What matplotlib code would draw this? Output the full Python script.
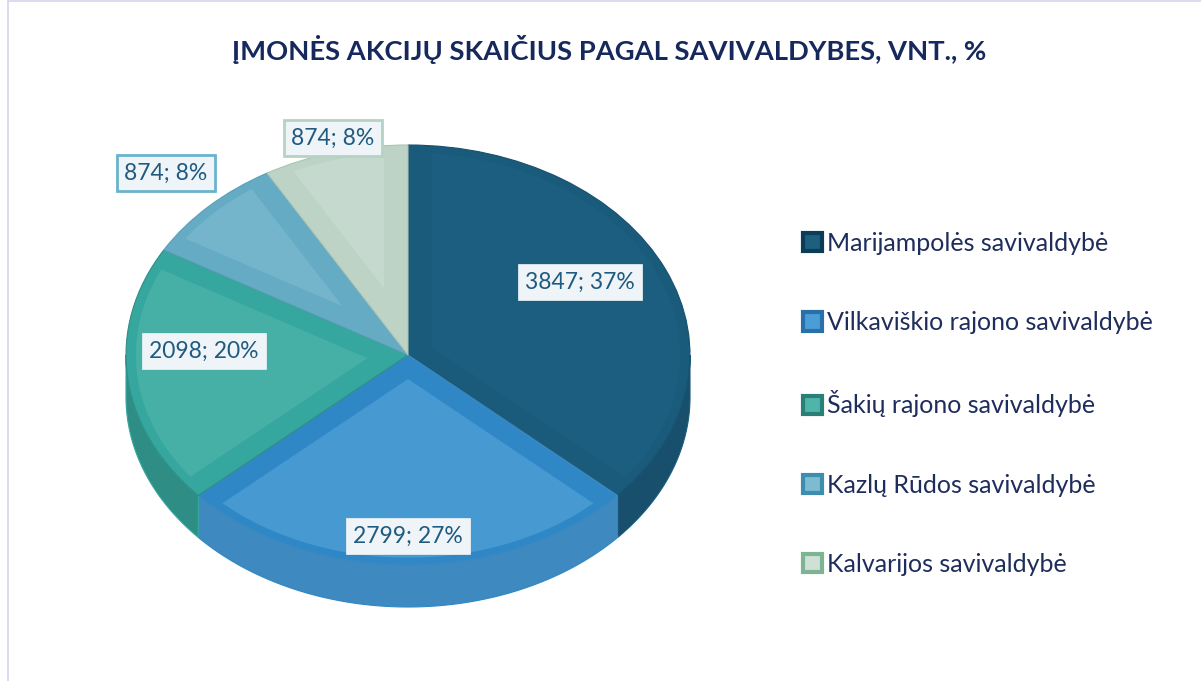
import numpy as np
import matplotlib.pyplot as plt
from matplotlib.patches import Polygon, Rectangle, Patch

# ---- data ----
categories = ['Marijampolės savivaldybė', 'Vilkaviškio rajono savivaldybė',
              'Šakių rajono savivaldybė', 'Kazlų Rūdos savivaldybė',
              'Kalvarijos savivaldybė']
values = [3847, 2799, 2098, 874, 874]
title = 'ĮMONĖS AKCIJŲ SKAIČIUS PAGAL SAVIVALDYBES, VNT., %'

# ---- styles ----
top_colors = ['#1B5E80', '#4699D1', '#46B0A6', '#74B5CC', '#C5D9CE']
band_colors = ['#1A5B7C', '#2F88C5', '#36A79E', '#65ABC4', '#BCD3C6']
side_colors = ['#174F6C', '#3D89C0', '#2E8E85', '#5A9FB8', '#A8C4B5']
legend_face = ['#1E5F7F', '#4A9DD6', '#4FB5AA', '#7DBBD0', '#D0E0D7']
legend_edge = ['#0C3D57', '#2A6FA8', '#2A8076', '#3D8EAE', '#7DB594']
label_edge = [None, None, None, '#6BB3CC', '#B5D3C3']
text_color = '#1F5A80'
font = 'Lato'

plt.rcParams['font.family'] = [font, 'DejaVu Sans']

W, H = 1201, 681
fig = plt.figure(figsize=(W / 100, H / 100), dpi=100)
fig.patch.set_facecolor('white')

# pie geometry in pixels (center x, top y, rx, ry)
cx, top_y, rx, ry = 408, 145, 282, 210
depth = 0.2
ylo, yhi = -1.27, 1.02
xlo, xhi = -1.01, 1.01
ax_left = cx + xlo * rx
ax_w = (xhi - xlo) * rx
ax_top = top_y - (yhi - 1.0) * ry
ax_h = (yhi - ylo) * ry
ax = fig.add_axes([ax_left / W, 1 - (ax_top + ax_h) / H, ax_w / W, ax_h / H])

total = sum(values)
fracs = np.array(values) / total
cum = np.concatenate([[0], np.cumsum(fracs)])
theta_hi = 90 - cum[:-1] * 360  # start angles (deg), clockwise
theta_lo = 90 - cum[1:] * 360

# side extrusion (front half only)
for i in range(len(values)):
    t1, t2 = theta_lo[i], theta_hi[i]
    a, b = max(t1, -180), min(t2, 0)
    if a < b:
        t = np.radians(np.linspace(a, b, 80))
        xs = np.cos(t)
        ys = np.sin(t)
        pts = np.vstack([np.column_stack([xs, ys]),
                         np.column_stack([xs[::-1], ys[::-1] - depth])])
        ax.add_patch(Polygon(pts, closed=True, facecolor=side_colors[i],
                             edgecolor=band_colors[i], lw=0.8, zorder=1))

wedges, _ = ax.pie(values, colors=band_colors, startangle=90,
                   counterclock=False, radius=1.0,
                   wedgeprops=dict(linewidth=0.8))
for i, w in enumerate(wedges):
    w.set_edgecolor(side_colors[i])
    w.set_zorder(2)

# inner bevel (inset sector)
d = 0.085
R = 0.965
for i in range(len(values)):
    t1, t2 = np.radians(theta_lo[i]), np.radians(theta_hi[i])
    half = (t2 - t1) / 2
    mid = (t1 + t2) / 2
    h = d / np.sin(min(half, np.pi / 2))
    apex = (h * np.cos(mid), h * np.sin(mid))
    delta = np.arcsin(d / R)
    t = np.linspace(t1 + delta, t2 - delta, 80)
    arc = np.column_stack([R * np.cos(t), R * np.sin(t)])
    pts = np.vstack([[apex], arc])
    ax.add_patch(Polygon(pts, closed=True, facecolor=top_colors[i],
                         edgecolor='none', zorder=3))

ax.set_aspect('auto')
ax.set_xlim(xlo, xhi)
ax.set_ylim(ylo, yhi)
ax.axis('off')

# data labels (pixel centres)
label_pos = [(580, 282), (408, 536), (204, 351), (166, 173), (333, 138)]
for i, (px, py) in enumerate(label_pos):
    pct = round(fracs[i] * 100)
    ec = label_edge[i] if label_edge[i] else '#F2F6F8'
    lw = 2 if label_edge[i] else 0.5
    fig.text(px / W, 1 - py / H, f'{values[i]}; {pct}%', ha='center', va='center',
             fontsize=16.5, color=text_color, zorder=10,
             bbox=dict(boxstyle='square,pad=0.32', facecolor='#EEF4F7',
                       edgecolor=ec, linewidth=lw))

# title
fig.text(609 / W, 1 - 50 / H, title, ha='center', va='center', fontsize=19.7,
         fontweight='bold', color='#16285C')

# legend
handles = [Patch(facecolor=legend_face[i], edgecolor=legend_edge[i], linewidth=3)
           for i in range(len(categories))]
leg = fig.legend(handles, categories, loc='center left',
                 bbox_to_anchor=(803 / W, 1 - 404 / H), frameon=False,
                 fontsize=18, labelcolor='#1F2D5C', handlelength=0.75,
                 handleheight=0.75, handletextpad=0.2, labelspacing=2.25,
                 borderaxespad=0, borderpad=0)

# chart border
fig.add_artist(Rectangle((8 / W, -0.01), 1.0, 1.0 + 0.01 - 1 / H,
                         transform=fig.transFigure, facecolor='none',
                         edgecolor='#D4D4EE', linewidth=1.2))

fig.savefig('out.png', dpi=100, facecolor='white')
